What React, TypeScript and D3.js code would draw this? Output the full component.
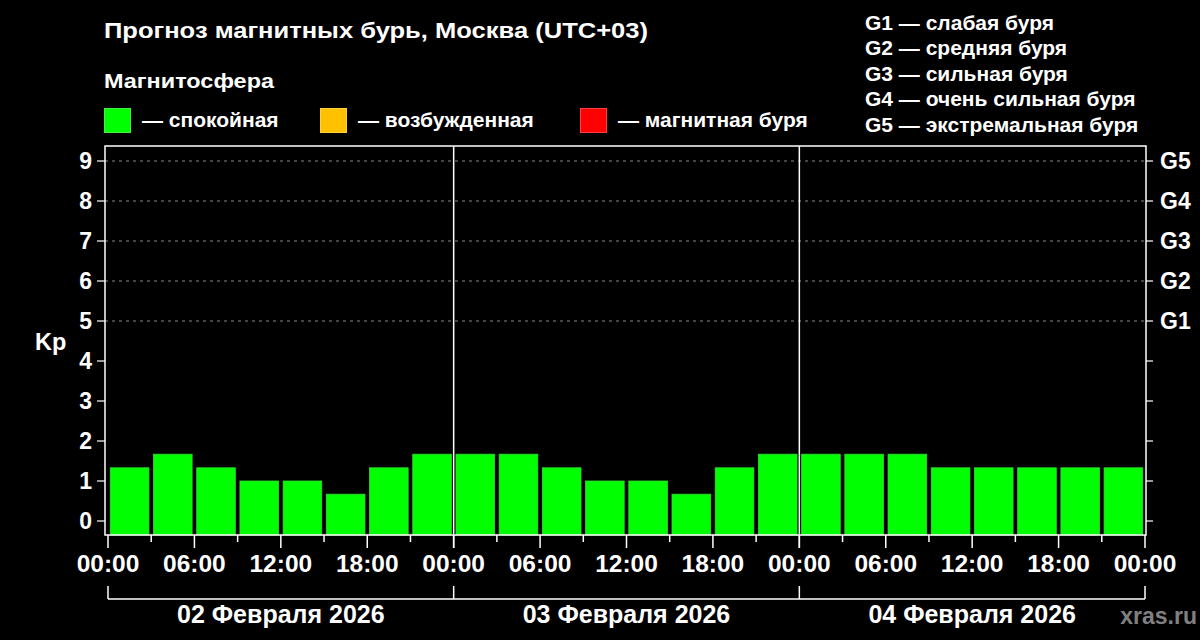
import React from "react";
import * as d3 from "d3";

const days = ["02 Февраля 2026", "03 Февраля 2026", "04 Февраля 2026"];
const kpValues = [
  1.33, 1.67, 1.33, 1.0, 1.0, 0.67, 1.33, 1.67,
  1.67, 1.67, 1.33, 1.0, 1.0, 0.67, 1.33, 1.67,
  1.67, 1.67, 1.67, 1.33, 1.33, 1.33, 1.33, 1.33,
];
const yTicks = [0, 1, 2, 3, 4, 5, 6, 7, 8, 9];
const gLevels = [
  { kp: 5, label: "G1", desc: "слабая буря" },
  { kp: 6, label: "G2", desc: "средняя буря" },
  { kp: 7, label: "G3", desc: "сильная буря" },
  { kp: 8, label: "G4", desc: "очень сильная буря" },
  { kp: 9, label: "G5", desc: "экстремальная буря" },
];
const legendItems = [
  { color: "#00ff00", border: "#44ee44", label: "— спокойная" },
  { color: "#ffc000", border: "#ffd040", label: "— возбужденная" },
  { color: "#ff0000", border: "#ff4040", label: "— магнитная буря" },
];
const timeLabels = ["00:00", "06:00", "12:00", "18:00"];

const FONT = "'Liberation Sans', Arial, sans-serif";

export default function App() {
  const W = 1200, H = 640;
  const frameL = 105, frameR = 1146, frameT = 146, frameB = 535;
  const x = d3.scaleLinear().domain([0, 72]).range([108, 1145]);
  const y = d3.scaleLinear().domain([0, 9]).range([521, 161]);
  const barColor = (v: number) => (v < 4 ? "#00ff00" : v < 5 ? "#ffc000" : "#ff0000");

  const hourTicks = d3.range(0, 73, 3);

  return (
    <svg width={W} height={H} style={{ display: "block", position: "absolute", left: 0, top: 0, background: "#000" }} fontFamily={FONT}>
      <rect x={0} y={0} width={W} height={H} fill="#000" />
      <text x={104} y={38} fill="#fff" fontSize={22} fontWeight="bold" textLength={544} lengthAdjust="spacingAndGlyphs">Прогноз магнитных бурь, Москва (UTC+03)</text>
      <text x={104} y={88} fill="#fff" fontSize={21} fontWeight="bold" textLength={170} lengthAdjust="spacingAndGlyphs">Магнитосфера</text>
      {legendItems.map((it, i) => {
        const lx = [104, 320, 580][i];
        return (
          <g key={i}>
            <rect x={lx + 0.5} y={108.5} width={26} height={24} fill={it.color} stroke={it.border} strokeWidth={1} />
            <text x={lx + 38} y={127} fill="#fff" fontSize={21} fontWeight="bold">{it.label}</text>
          </g>
        );
      })}
      {gLevels.map((g, i) => (
        <text key={i} x={865} y={29.5 + i * 25.6} fill="#fff" fontSize={21} fontWeight="bold">{`${g.label} — ${g.desc}`}</text>
      ))}

      {gLevels.map((g, i) => (
        <line key={i} x1={frameL} x2={frameR} y1={y(g.kp)} y2={y(g.kp)} stroke="#888" strokeWidth={1} strokeDasharray="3,4" />
      ))}

      {kpValues.map((v, i) => {
        const x0 = x(i * 3) + 2.3;
        const x1 = x(i * 3 + 3) - 2.3;
        return (
          <rect key={i} x={x0} y={y(v)} width={x1 - x0} height={frameB - y(v)} fill={barColor(v)} stroke="#33dd33" strokeWidth={0.8} />
        );
      })}

      <rect x={frameL} y={frameT} width={frameR - frameL} height={frameB - frameT} fill="none" stroke="#fff" strokeWidth={1.5} />

      {[24, 48].map((h) => (
        <line key={h} x1={x(h)} x2={x(h)} y1={frameT} y2={548} stroke="#fff" strokeWidth={1.5} />
      ))}

      {yTicks.map((t) => (
        <g key={t}>
          <line x1={97} x2={frameL} y1={y(t)} y2={y(t)} stroke="#fff" strokeWidth={1.2} />
          <text x={92} y={y(t) + 8} fill="#fff" fontSize={23} fontWeight="bold" textAnchor="end">{t}</text>
          <line x1={frameR} x2={1153} y1={y(t)} y2={y(t)} stroke="#fff" strokeWidth={1.2} />
        </g>
      ))}
      {gLevels.map((g, i) => (
        <text key={i} x={1160} y={y(g.kp) + 7.5} fill="#fff" fontSize={23} fontWeight="bold">{g.label}</text>
      ))}
      <text x={35} y={350} fill="#fff" fontSize={23.5} fontWeight="bold">Kp</text>

      {hourTicks.map((h) => {
        const major = h % 6 === 0;
        return (
          <line key={h} x1={x(h)} x2={x(h)} y1={frameB} y2={major ? 548 : 542} stroke="#fff" strokeWidth={1.5} />
        );
      })}
      {d3.range(0, 73, 6).map((h) => (
        <text key={h} x={x(h)} y={572} fill="#fff" fontSize={24.5} fontWeight="bold" textAnchor="middle">
          {timeLabels[(h / 6) % 4]}
        </text>
      ))}

      <line x1={x(0)} x2={x(72)} y1={599} y2={599} stroke="#fff" strokeWidth={1.5} />
      {[0, 24, 48, 72].map((h) => (
        <line key={h} x1={x(h)} x2={x(h)} y1={586} y2={599} stroke="#fff" strokeWidth={1.5} />
      ))}
      {days.map((d, i) => (
        <text key={i} x={x(i * 24 + 12)} y={623} fill="#fff" fontSize={25} fontWeight="bold" textAnchor="middle">{d}</text>
      ))}
      <text x={1197} y={624} fill="#808080" fontSize={23} fontWeight="bold" textAnchor="end">xras.ru</text>
    </svg>
  );
}
